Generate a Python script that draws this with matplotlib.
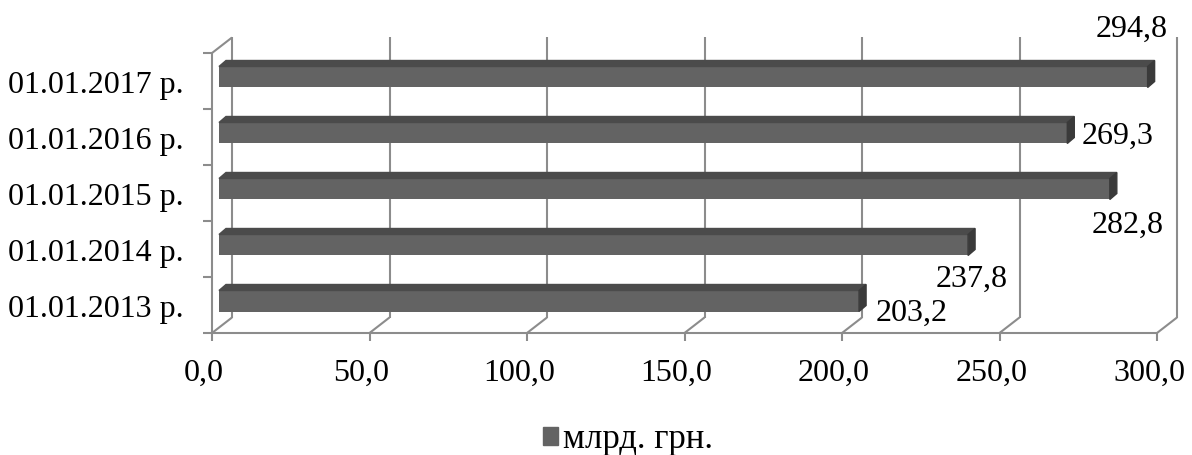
import matplotlib
matplotlib.use('Agg')
import matplotlib.pyplot as plt
from matplotlib.patches import Polygon, Patch

plt.rcParams['font.family'] = ['Liberation Serif', 'DejaVu Serif']

# data
dates = ['01.01.2013 р.', '01.01.2014 р.', '01.01.2015 р.', '01.01.2016 р.', '01.01.2017 р.']
amounts = [203.2, 237.8, 282.8, 269.3, 294.8]
x_ticks = [0, 50, 100, 150, 200, 250, 300]
series_name = 'млрд. грн.'

# label placement in pixels from the bar end (x right, y up), baseline aligned
label_shift = [(53, -20), (4, -42), (18, -44), (50, -11), (-16, 40)]

FRONT = '#636363'
TOP = '#4b4b4b'
SIDE = '#3a3a3a'
GRID = '#8c8c8c'
FS = 23
PT = 0.72  # points per pixel at 100 dpi

fig = plt.figure(figsize=(11.92, 4.55), dpi=100)
ax = fig.add_axes([212 / 1192, 1 - 333 / 455, 945 / 1192, 280 / 455])
ax.set_xlim(0, x_ticks[-1])
ax.set_ylim(0, len(dates))
ax.axis('off')

# pixel -> data unit factors
bb = ax.get_window_extent()
ux = x_ticks[-1] / bb.width
uy = len(dates) / bb.height

wall_dx, wall_dy = 20 * ux, 15.5 * uy
line_kw = dict(color=GRID, lw=1.5, clip_on=False, solid_capstyle='butt')

# back wall gridlines, floor and value axis
for t in x_ticks:
    ax.plot([t + wall_dx, t + wall_dx], [wall_dy, len(dates) + wall_dy], **line_kw)
    ax.plot([t, t], [0, -8 * uy], **line_kw)
    ax.plot([t, t + wall_dx], [0, wall_dy], **line_kw)
    ax.annotate(f'{t:.1f}'.replace('.', ','), xy=(t, 0), xytext=(-8 * PT, -48 * PT),
                textcoords='offset points', ha='center', va='baseline', fontsize=FS)
ax.plot([0, x_ticks[-1]], [0, 0], **line_kw)

# left wall
ax.plot([0, 0], [0, len(dates)], **line_kw)
ax.plot([0, wall_dx], [len(dates), len(dates) + wall_dy], **line_kw)
for k in range(len(dates) + 1):
    ax.plot([0, -9 * ux], [k, k], **line_kw)

# bars with top and end faces
bx, by = 7 * ux, 4 * uy
bh = 21 * uy
dx, dy = 7 * ux, 6 * uy
for i, (name, v) in enumerate(zip(dates, amounts)):
    yc = i + 0.5 + by
    bot, top = yc - bh / 2, yc + bh / 2
    ax.barh(yc, v, left=bx, height=bh, color=FRONT, clip_on=False, zorder=3)
    ax.add_patch(Polygon([(bx, top), (v + bx, top), (v + bx + dx, top + dy), (bx + dx, top + dy)],
                         closed=True, color=TOP, clip_on=False, zorder=3))
    ax.add_patch(Polygon([(v + bx, bot), (v + bx + dx, bot + dy), (v + bx + dx, top + dy), (v + bx, top)],
                         closed=True, color=SIDE, clip_on=False, zorder=3))
    sx, sy = label_shift[i]
    ax.annotate(f'{v:.1f}'.replace('.', ','), xy=(v + bx, yc), xytext=(sx * PT, sy * PT),
                textcoords='offset points', ha='center', va='baseline', fontsize=FS, zorder=4)
    ax.annotate(name, xy=(0, i + 0.5), xytext=(-28 * PT, -12 * PT), textcoords='offset points',
                ha='right', va='baseline', fontsize=FS)

fig.legend(handles=[Patch(color=FRONT, label=series_name)], loc='center',
           bbox_to_anchor=(628 / 1192, 1 - 440 / 455), frameon=False, fontsize=25,
           handlelength=0.43, handleheight=0.43, handletextpad=0.17, borderpad=0)

plt.savefig('out.png', dpi=100)
plt.close()
